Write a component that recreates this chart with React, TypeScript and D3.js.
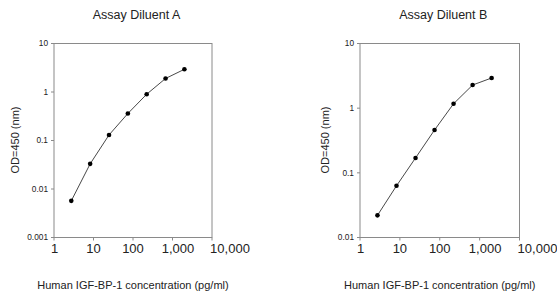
import * as d3 from 'd3'

// 3-fold dilution series (pg/ml)
const concA = [2.74, 8.23, 24.7, 74.1, 222, 667, 2000];
const odA = [0.0057, 0.033, 0.13, 0.36, 0.9, 1.9, 2.94];

const concB = [2.74, 8.23, 24.7, 74.1, 222, 667, 2000];
const odB = [0.022, 0.063, 0.17, 0.46, 1.17, 2.28, 2.93];

const xTicks = [1, 10, 100, 1000, 10000];
const yTicksA = [0.001, 0.01, 0.1, 1, 10];
const yTicksB = [0.01, 0.1, 1, 10];

const titles = ['Assay Diluent A', 'Assay Diluent B'];
const xLabel = 'Human IGF-BP-1 concentration (pg/ml)';
const yLabel = 'OD=450 (nm)';

const font = 'Arial, "Liberation Sans", sans-serif';
// the wider labels sit a little right of their ticks in the original
const xLabelShift = [0.5, 0, 0, 5.5, 18];

function Panel({ left, right, top, bottom, conc, od, yTicks, title, yLabelX }: any) {
  const x = d3.scaleLog().domain([1, 10000]).range([left, right]);
  const y = d3.scaleLog().domain([yTicks[0], 10]).range([bottom, top]);
  const line: any = d3.line<number>()
    .x((d, i) => x(conc[i]))
    .y((d) => y(d));
  const fmtX = d3.format(',');
  const cx = (left + right) / 2;

  return (
    <g>
      <text x={cx + 3.5} y={19} textAnchor="middle" fontSize={12.5} fill="#222">{title}</text>
      <rect x={left} y={top} width={right - left} height={bottom - top} fill="none" stroke="#8a8a8a" strokeWidth={1} />
      {yTicks.map((t: number) => (
        <g key={t}>
          <line x1={left - 3} x2={left} y1={y(t)} y2={y(t)} stroke="#8a8a8a" />
          <text x={left - 6} y={y(t)} dy="0.35em" textAnchor="end" fontSize={8.3} fill="#222">{String(t)}</text>
        </g>
      ))}
      {xTicks.map((t, i) => (
        <g key={t}>
          <line x1={x(t)} x2={x(t)} y1={bottom} y2={bottom + 3} stroke="#8a8a8a" />
          <text x={x(t) + xLabelShift[i]} y={253} textAnchor="middle" fontSize={13} fill="#222">{fmtX(t)}</text>
        </g>
      ))}
      <path d={line(od)} fill="none" stroke="#333" strokeWidth={0.9} />
      {od.map((d: number, i: number) => (
        <circle key={i} cx={x(conc[i])} cy={y(d)} r={2.3} fill="#000" />
      ))}
      <text transform={`translate(${yLabelX},140) rotate(-90)`} textAnchor="middle" dy="0.35em" fontSize={11} fill="#222">{yLabel}</text>
      <text x={cx} y={289} textAnchor="middle" fontSize={11} fill="#222">{xLabel}</text>
    </g>
  );
}

function App() {
  const width = 557;
  const height = 297;
  return (
    <div style={{ position: 'absolute', left: 0, top: 0 }}>
      <svg width={width} height={height} style={{ display: 'block', fontFamily: font }}>
        <rect width={width} height={height} fill="#fff" />
        <Panel left={54} right={212} top={43.5} bottom={237.5} conc={concA} od={odA}
          yTicks={yTicksA} title={titles[0]} yLabelX={15} />
        <Panel left={360} right={519.5} top={43.5} bottom={237.5} conc={concB} od={odB}
          yTicks={yTicksB} title={titles[1]} yLabelX={325} />
      </svg>
    </div>
  );
}

export default App;
